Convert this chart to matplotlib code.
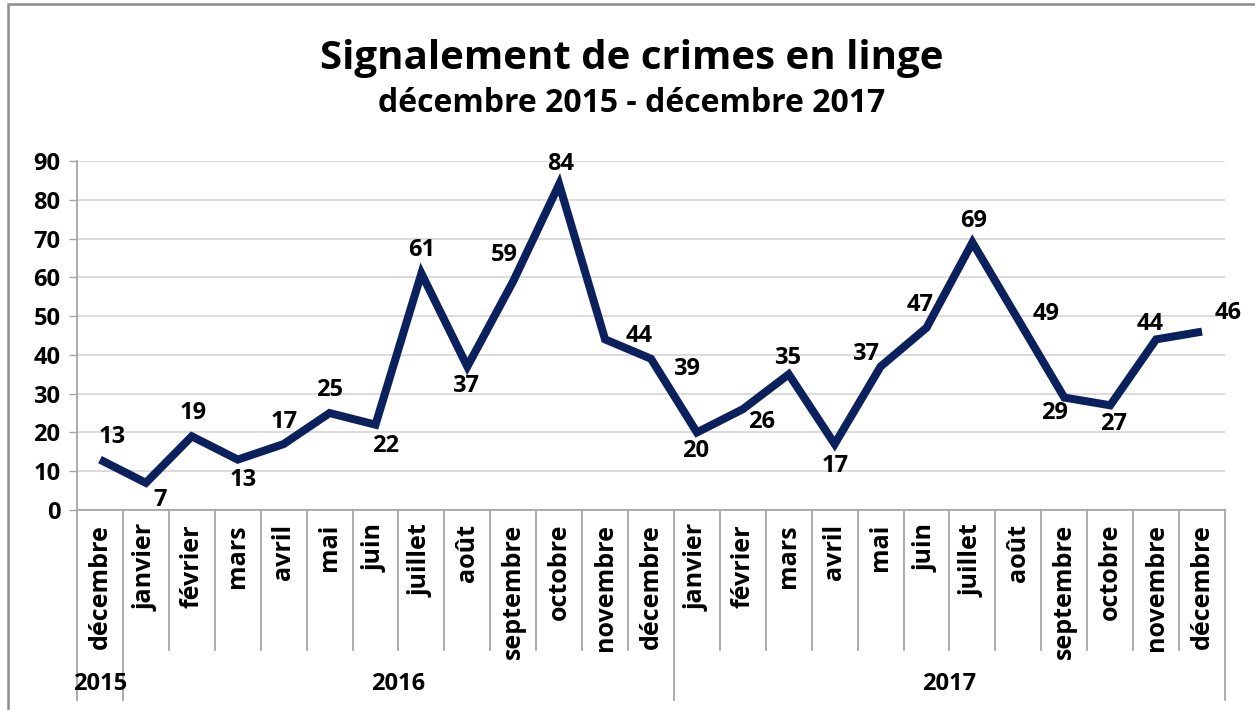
import matplotlib.pyplot as plt
import matplotlib.transforms as mtransforms
from matplotlib.patches import Rectangle

plt.rcParams['font.family'] = ['Open Sans', 'DejaVu Sans']
plt.rcParams['font.weight'] = 'bold'

# --- Data ---
months = ["décembre",
          "janvier", "février", "mars", "avril", "mai", "juin", "juillet",
          "août", "septembre", "octobre", "novembre", "décembre",
          "janvier", "février", "mars", "avril", "mai", "juin", "juillet",
          "août", "septembre", "octobre", "novembre", "décembre"]
years = ["2015", "2016", "2017"]
year_counts = [1, 12, 12]
values = [13, 7, 19, 13, 17, 25, 22, 61, 37, 59, 84, 44, 39,
          20, 26, 35, 17, 37, 47, 69, 49, 29, 27, 44, 46]

# label offsets in pixels (dx, dy) relative to each point
label_offsets = [(12, 23), (14, -17), (1, 23), (5, -20), (1, 22), (0, 23),
                 (10, -21), (0, 23), (-2, -19), (-9, 26), (1, 20), (34, 3),
                 (36, -10), (-1, -19), (19, -13), (-1, 16), (0, -22),
                 (-15, 13), (-6, 23), (1, 21), (28, 6), (-10, -15),
                 (3, -19), (-6, 15), (26, 19)]

FS = 17
line_color = "#0b215e"
grid_color = "#d9d9d9"
axis_color = "#a6a6a6"

fig = plt.figure(figsize=(12.55, 7.1), dpi=100)
ax = fig.add_axes([77 / 1255, 200 / 710, (1225 - 77) / 1255, 349 / 710])

x = list(range(len(values)))
ax.plot(x, values, color=line_color, linewidth=5.8, solid_joinstyle='miter',
        solid_capstyle='butt', zorder=3)

for xi, v, (dx, dy) in zip(x, values, label_offsets):
    ax.annotate(str(v), (xi, v), xytext=(dx * 0.72, dy * 0.72),
                textcoords='offset points', ha='center', va='center',
                fontsize=FS, fontweight='bold', color='black', zorder=4)

ax.set_xlim(-0.5, len(values) - 0.5)
ax.set_ylim(0, 90)
ax.set_yticks(range(0, 91, 10))
ax.tick_params(axis='y', labelsize=FS, length=6, width=1, color=axis_color,
               direction='out', pad=6)
ax.set_xticks([])
ax.grid(axis='y', color=grid_color, linewidth=1.3)
ax.set_axisbelow(True)
for side in ['top', 'right']:
    ax.spines[side].set_visible(False)
for side in ['left', 'bottom']:
    ax.spines[side].set_color(axis_color)
    ax.spines[side].set_linewidth(1.3)

trans = mtransforms.blended_transform_factory(ax.transData, ax.transAxes)

# month labels
for xi, m in enumerate(months):
    ax.text(xi, -0.04, m, rotation=90, ha='center', va='top', fontsize=18,
            fontweight='bold', transform=trans)

# dividers
boundaries = [0]
for c in year_counts:
    boundaries.append(boundaries[-1] + c)
for k in range(len(values) + 1):
    b = k - 0.5
    bottom = -0.545 if k in boundaries else -0.40
    ax.plot([b, b], [0, bottom], color=axis_color, linewidth=1.3,
            transform=trans, clip_on=False)

# year labels
for yr, s, c in zip(years, boundaries[:-1], year_counts):
    ax.text(s + c / 2 - 0.5, -0.50, yr, ha='center', va='center', fontsize=FS,
            fontweight='bold', transform=trans)

fig.text(0.503, 1 - 58 / 710, "Signalement de crimes en linge", ha='center',
         va='center', fontsize=29, fontweight='bold')
fig.text(0.503, 1 - 104 / 710, "décembre 2015 - décembre 2017", ha='center',
         va='center', fontsize=23, fontweight='bold')

fig.patches.append(Rectangle((7.5 / 1255, -0.1), 1.2, 1 - 3.5 / 710 + 0.1,
                             transform=fig.transFigure, fill=False,
                             edgecolor='#8c8c8c', linewidth=1.8))

plt.savefig('out.png', dpi=100)
plt.close()
